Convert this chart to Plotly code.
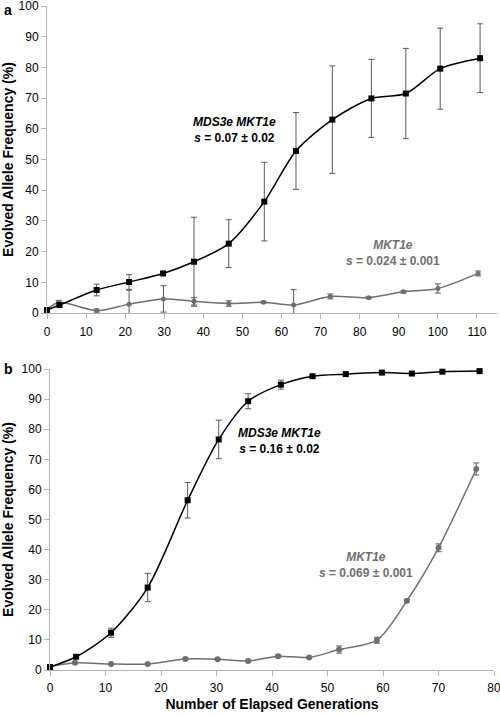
import plotly.graph_objects as go

# Panel a data
a_gen = [0, 3.2, 12.7, 21.0, 29.7, 37.6, 46.5, 55.6, 63.7, 73.0, 83.0, 91.8, 100.6, 110.8]
a_double = [1.0, 2.6, 7.5, 10.1, 12.9, 16.7, 22.6, 36.3, 52.8, 63.0, 69.9, 71.5, 79.6, 83.0]
a_double_err = [0.3, 0.6, 1.9, 2.4, 0.6, 14.5, 7.8, 12.8, 12.5, 17.5, 12.7, 14.7, 13.2, 11.2]
a_gen_s = [0, 3.0, 12.7, 21.0, 29.8, 37.6, 46.5, 55.4, 63.1, 72.5, 82.3, 91.2, 100.0, 110.3]
a_single = [1.0, 3.5, 0.8, 2.9, 4.6, 3.8, 3.1, 3.5, 2.6, 5.4, 5.0, 6.9, 8.0, 12.9]
a_single_err = [0.3, 0.6, 0.5, 4.5, 4.3, 1.2, 0.9, 0.3, 5.0, 0.8, 0.3, 0.4, 1.5, 0.8]

# Panel b data
b_gen = [0, 4.7, 11.0, 17.6, 24.8, 30.4, 35.7, 41.6, 47.3, 53.3, 59.8, 65.2, 70.7, 77.4]
b_double = [1.0, 4.4, 12.4, 27.4, 56.4, 76.6, 89.3, 94.8, 97.6, 98.3, 98.8, 98.5, 99.1, 99.3]
b_double_err = [0.2, 0.4, 1.5, 4.7, 5.9, 6.4, 2.5, 1.5, 0.3, 0.3, 0.2, 0.3, 0.2, 0.2]
b_gen_s = [0, 4.5, 11.0, 17.6, 24.4, 30.2, 35.7, 41.1, 46.7, 52.1, 58.9, 64.3, 70.0, 76.8]
b_single = [1.1, 2.4, 2.0, 2.0, 3.7, 3.6, 3.0, 4.6, 4.2, 6.8, 9.9, 23.0, 40.6, 66.8]
b_single_err = [0.2, 0.3, 0.2, 0.2, 0.3, 0.3, 0.3, 0.5, 0.3, 1.2, 1.0, 0.4, 1.3, 2.0]

x_ticks_a = list(range(0, 111, 10))
x_ticks_b = list(range(0, 81, 10))
y_ticks = list(range(0, 101, 10))

FONT = "Liberation Sans, Arial, sans-serif"
BLACK = "#000000"
GRAY = "#6f6f6f"
ERR = "#5a5a5a"
AXIS = "#b4b4b4"

fig = go.Figure()

def add_series(x, y, err, color, symbol, xa, ya, size):
    fig.add_trace(go.Scatter(
        x=x, y=y, mode="lines+markers", xaxis=xa, yaxis=ya,
        line=dict(color=color, width=1.5, shape="spline", smoothing=0.8),
        marker=dict(color=color, symbol=symbol, size=size),
        error_y=dict(type="data", array=err, color=ERR, thickness=1, width=3),
        showlegend=False, cliponaxis=False))

add_series(a_gen_s, a_single, a_single_err, GRAY, "circle", "x", "y", 5)
add_series(a_gen, a_double, a_double_err, BLACK, "square", "x", "y", 6)
add_series(b_gen_s, b_single, b_single_err, GRAY, "circle", "x2", "y2", 6)
add_series(b_gen, b_double, b_double_err, BLACK, "square", "x2", "y2", 6)

axis_common = dict(showline=True, linecolor=AXIS, linewidth=1, ticks="outside",
                   tickcolor=AXIS, ticklen=5, showgrid=False, zeroline=False,
                   ticklabeloverflow="allow",
                   tickfont=dict(family=FONT, size=12, color="#000"))

title_font = dict(family=FONT, size=14, color="#000")

fig.update_layout(
    width=500, height=715,
    margin=dict(l=0, r=0, t=0, b=0),
    paper_bgcolor="white", plot_bgcolor="white",
    xaxis=dict(domain=[0.094, 0.993], range=[0, 115], tickvals=x_ticks_a,
               anchor="y", automargin=False, ticklabelstandoff=3, **axis_common),
    yaxis=dict(domain=[0.5622, 0.9916], range=[0, 100], tickvals=y_ticks,
               anchor="x", automargin=False,
               title=dict(text="<b>Evolved Allele Frequency (%)</b>", font=title_font, standoff=7),
               **axis_common),
    xaxis2=dict(domain=[0.1, 0.988], range=[0, 80], tickvals=x_ticks_b,
                anchor="y2", automargin=False, ticklabelstandoff=2,
                title=dict(text="<b>Number of Elapsed Generations</b>", font=title_font, standoff=4),
                **axis_common),
    yaxis2=dict(domain=[0.0629, 0.4839], range=[0, 100], tickvals=y_ticks,
                anchor="x2", automargin=False,
                title=dict(text="<b>Evolved Allele Frequency (%)</b>", font=title_font, standoff=7),
                **axis_common),
)

ann = []
def label(text, x, y, color, xref, yref):
    ann.append(dict(text=text, x=x, y=y, xref=xref, yref=yref, showarrow=False,
                    font=dict(family=FONT, size=12, color=color), align="center"))

label("<b><i>MDS3e MKT1e</i></b><br><b><i>s</i> = 0.07 ± 0.02</b>", 48, 59.5, BLACK, "x", "y")
label("<b><i>MKT1e</i></b><br><b><i>s</i> = 0.024 ± 0.001</b>", 88.5, 19.5, GRAY, "x", "y")
label("<b><i>MDS3e MKT1e</i></b><br><b><i>s</i> = 0.16 ± 0.02</b>", 41.4, 76, BLACK, "x2", "y2")
label("<b><i>MKT1e</i></b><br><b><i>s</i> = 0.069 ± 0.001</b>", 57, 35, GRAY, "x2", "y2")

ann.append(dict(text="<b>a</b>", x=2 / 500, y=1.0, xref="paper", yref="paper",
                showarrow=False, xanchor="left", yanchor="top",
                font=dict(family=FONT, size=14, color="#000")))
ann.append(dict(text="<b>b</b>", x=2 / 500, y=1 - 369 / 715, xref="paper", yref="paper",
                showarrow=False, xanchor="left", yanchor="middle",
                font=dict(family=FONT, size=14, color="#000")))
fig.update_layout(annotations=ann)

fig.write_html("out.html", config={"displayModeBar": False},
               post_script="document.body.style.margin='0';document.body.style.overflow='hidden';")
